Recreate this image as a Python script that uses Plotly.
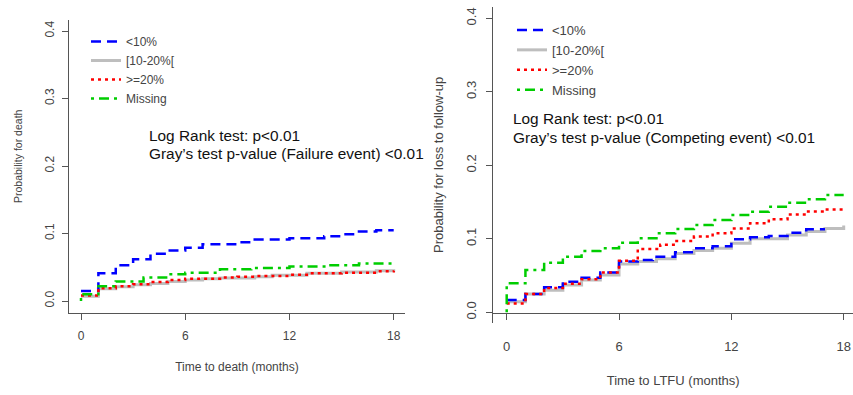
import plotly.graph_objects as go

# ---------------- data ----------------
series_names = ["<10%", "[10-20%[", ">=20%", "Missing"]

# Left panel: cumulative probability of death
L_blue_t = [0, 1, 2, 3, 4, 5, 6, 7, 9, 10, 12, 14, 15, 16, 17, 18]
L_blue_v = [0.015, 0.041, 0.053, 0.062, 0.070, 0.075, 0.079, 0.084, 0.087, 0.091, 0.093, 0.096, 0.099, 0.103, 0.105, 0.105]
L_gray_t = [0, 1, 2, 3, 4, 5, 6, 7, 8, 10, 11, 13, 15, 17, 18]
L_gray_v = [0.007, 0.018, 0.021, 0.024, 0.026, 0.029, 0.031, 0.033, 0.034, 0.036, 0.038, 0.041, 0.043, 0.045, 0.047]
L_red_t = [0, 1, 2, 3, 4, 5, 6, 8, 9, 10, 12, 13, 15, 17, 18]
L_red_v = [0.008, 0.019, 0.022, 0.025, 0.028, 0.031, 0.033, 0.035, 0.036, 0.037, 0.039, 0.041, 0.042, 0.044, 0.045]
L_green_t = [0, 0, 1, 2, 3.6, 5, 6, 8, 9.8, 12, 14.2, 16, 18]
L_green_v = [0.0, 0.010, 0.022, 0.029, 0.035, 0.0395, 0.042, 0.047, 0.049, 0.051, 0.053, 0.0555, 0.0555]

# Right panel: cumulative probability of loss to follow-up
R_blue_t = [0, 1, 2, 3, 4, 5, 6, 7, 7.8, 9, 10, 11, 12, 13, 14, 15, 16, 17]
R_blue_v = [0.0167, 0.025, 0.034, 0.0417, 0.047, 0.054, 0.069, 0.071, 0.0757, 0.0816, 0.087, 0.090, 0.0993, 0.102, 0.1038, 0.1083, 0.113, 0.113]
R_gray_t = [0, 1, 2, 3, 4, 5, 6, 7, 8, 9, 10, 11, 12, 13, 15, 16, 17, 18]
R_gray_v = [0.0145, 0.0249, 0.030, 0.037, 0.044, 0.0507, 0.0657, 0.069, 0.073, 0.080, 0.084, 0.087, 0.094, 0.100, 0.105, 0.110, 0.114, 0.118]
R_red_t = [0, 1, 2, 3, 4, 5, 6, 7, 8.2, 9, 10, 11, 12, 13, 14, 15, 16, 17, 18]
R_red_v = [0.012, 0.025, 0.033, 0.039, 0.045, 0.054, 0.070, 0.086, 0.092, 0.097, 0.103, 0.1075, 0.114, 0.121, 0.1265, 0.133, 0.137, 0.140, 0.140]
R_green_t = [0, 0, 1, 2, 3, 4, 5, 6, 7, 8, 9, 10, 11, 12, 13, 14, 15, 16, 17, 18]
R_green_v = [0.0, 0.0395, 0.0576, 0.0675, 0.0757, 0.0834, 0.087, 0.0947, 0.1007, 0.1075, 0.1133, 0.1188, 0.1256, 0.1324, 0.1369, 0.1437, 0.149, 0.1537, 0.1596, 0.1596]

x_ticks = [0, 6, 12, 18]
y_ticks = [0.0, 0.1, 0.2, 0.3, 0.4]
y_tick_labels = ["0.0", "0.1", "0.2", "0.3", "0.4"]

# ---------------- styles ----------------
FONT = "Liberation Sans, Arial, sans-serif"
AX = "#555555"
TXT = "#444444"
styles = {
    "<10%": dict(color="#0000FF", width=2.5, dash="10px,6px"),
    "[10-20%[": dict(color="#BEBEBE", width=3, dash="solid"),
    ">=20%": dict(color="#FF0000", width=2.5, dash="3px,4px"),
    "Missing": dict(color="#00CD00", width=2.5, dash="3px,5px,10px,5px"),
}
rank = {n: i for i, n in enumerate(series_names)}

fig = go.Figure()

left = {"<10%": (L_blue_t, L_blue_v), "[10-20%[": (L_gray_t, L_gray_v),
        ">=20%": (L_red_t, L_red_v), "Missing": (L_green_t, L_green_v)}
right = {"<10%": (R_blue_t, R_blue_v), "[10-20%[": (R_gray_t, R_gray_v),
         ">=20%": (R_red_t, R_red_v), "Missing": (R_green_t, R_green_v)}

draw_order = ["[10-20%[", "<10%", ">=20%", "Missing"]
for name in draw_order:
    t, v = left[name]
    fig.add_trace(go.Scatter(x=t, y=v, mode="lines", name=name, line=styles[name],
                             line_shape="hv", xaxis="x", yaxis="y", legend="legend",
                             legendrank=rank[name] + 1))
for name in draw_order:
    t, v = right[name]
    fig.add_trace(go.Scatter(x=t, y=v, mode="lines", name=name, line=styles[name],
                             line_shape="hv", xaxis="x2", yaxis="y2", legend="legend2",
                             legendrank=rank[name] + 1))

W, H = 853, 395

def xa(domain, rng, title, size, standoff, tstand):
    return dict(domain=domain, range=rng, tickvals=x_ticks, showgrid=False, zeroline=False,
                showline=True, linecolor=AX, linewidth=1.2, ticks="outside", ticklen=6,
                tickcolor=AX, tickwidth=1.2, tickfont=dict(family=FONT, size=size, color=TXT),
                ticklabelstandoff=standoff, ticklabeloverflow="allow",
                title=dict(text=title, font=dict(family=FONT, size=size, color=TXT), standoff=tstand))

def ya(domain, rng, size, standoff, anchor, title=None, tsize=12, tstand=14):
    d = dict(domain=domain, range=rng, tickvals=y_ticks, ticktext=y_tick_labels,
             tickangle=-90, showgrid=False, zeroline=False, anchor=anchor,
             showline=True, linecolor=AX, linewidth=1.2, ticks="outside", ticklen=6,
             tickcolor=AX, tickwidth=1.2, tickfont=dict(family=FONT, size=size, color=TXT),
             ticklabelstandoff=standoff)
    if title:
        d["title"] = dict(text=title, font=dict(family=FONT, size=tsize, color=TXT), standoff=tstand)
    return d

fig.update_layout(
    width=W, height=H, margin=dict(l=0, r=0, t=0, b=0),
    paper_bgcolor="white", plot_bgcolor="white",
    xaxis=xa([69 / W, 405 / W], [-0.691, 18.65], "Time to death (months)", 12, 6, 20),
    yaxis=ya([1 - 312.7 / H, 1 - 20 / H], [-0.0173, 0.4163], 12, 3, "x"),
    xaxis2=xa([493.3 / W, 1.0], [-0.716, 18.497], "Time to LTFU (months)", 13, 16, 22),
    yaxis2=ya([1 - 322.7 / H, 1 - 7 / H], [-0.01415, 0.41537], 13, 5, "x2",
              title="Probability for loss to follow-up", tsize=13, tstand=17),
    legend=dict(x=86 / W, y=1 - 27 / H, xanchor="left", yanchor="top", bgcolor="rgba(0,0,0,0)",
                font=dict(family=FONT, size=12, color=TXT), itemwidth=30, tracegroupgap=0),
    legend2=dict(x=512 / W, y=1 - 15 / H, xanchor="left", yanchor="top", bgcolor="rgba(0,0,0,0)",
                 font=dict(family=FONT, size=13, color=TXT), itemwidth=30, tracegroupgap=0),
    showlegend=True,
)

# left y-axis title (placed like the original, slightly above the axis centre)
fig.add_annotation(x=18 / W, y=1 - 156 / H, xref="paper", yref="paper", xanchor="center", yanchor="middle",
                   text="Probability for death", textangle=-90, showarrow=False,
                   font=dict(family=FONT, size=10.5, color=TXT))

TF = dict(family=FONT, size=15.4, color="#111111")
fig.add_annotation(x=147 / W, y=1 - 135 / H, xref="paper", yref="paper", xanchor="left", yanchor="middle",
                   text="Log Rank test: p<0.01", showarrow=False, font=TF)
fig.add_annotation(x=147 / W, y=1 - 153 / H, xref="paper", yref="paper", xanchor="left", yanchor="middle",
                   text="Gray’s test p-value (Failure event) <0.01", showarrow=False, font=TF)
fig.add_annotation(x=511 / W, y=1 - 118 / H, xref="paper", yref="paper", xanchor="left", yanchor="middle",
                   text="Log Rank test: p<0.01", showarrow=False, font=TF)
fig.add_annotation(x=511 / W, y=1 - 137 / H, xref="paper", yref="paper", xanchor="left", yanchor="middle",
                   text="Gray’s test p-value (Competing event) <0.01", showarrow=False, font=TF)

fig.write_html("out.html", config={"displayModeBar": False},
               post_script="document.body.style.margin='0px';document.body.style.overflow='hidden';")
